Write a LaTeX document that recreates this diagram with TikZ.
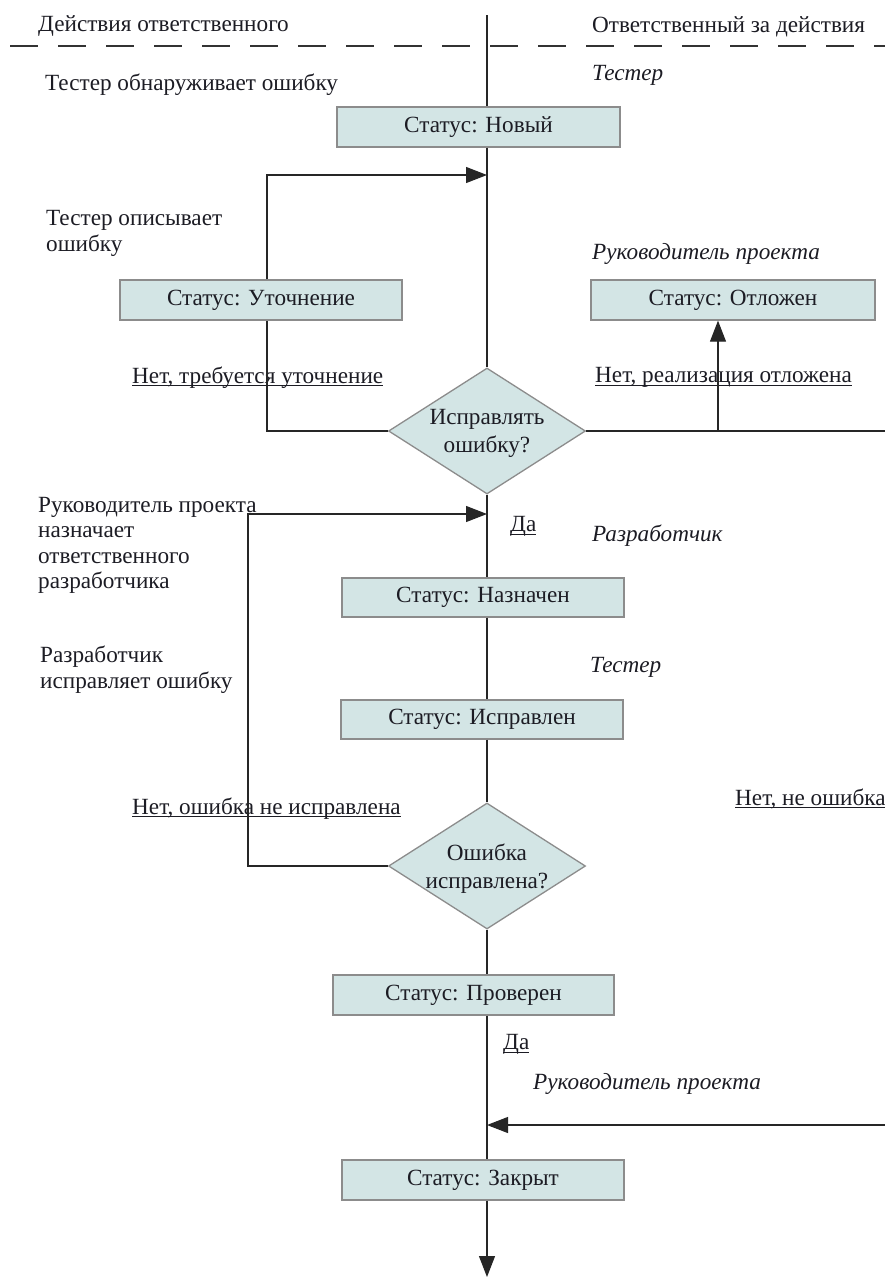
\documentclass[tikz,border=0pt]{standalone}
\usepackage{fontspec}
\setmainfont{Liberation Serif}
\usetikzlibrary{shapes.geometric,arrows.meta}
\definecolor{boxfill}{HTML}{D3E5E5}
\definecolor{boxline}{HTML}{8C8C8C}
\definecolor{txt}{HTML}{1C1C24}
\newcommand\fs{\fontsize{23.2}{25.5}\selectfont}
\newcommand\fsd{\fontsize{23.2}{27.5}\selectfont}
\newcommand\ulin[1]{\setbox0\hbox{#1}\leavevmode\rlap{\rule[-3pt]{\wd0}{1pt}}\box0}
\begin{document}
\begin{tikzpicture}[x=1pt,y=-1pt,
  box/.style={draw=boxline,fill=boxfill,line width=1.3pt,minimum height=40pt,inner sep=0pt,font=\fs,text=txt},
  dia/.style={diamond,draw=boxline,fill=boxfill,line width=1.3pt,minimum width=197pt,minimum height=126pt,inner sep=0pt},
  diatext/.style={align=center,font=\fsd,text=txt,inner sep=0pt,yshift=-2.5pt},
  conn/.style={line width=1.1pt,draw=black!85},
  arr/.style={conn,-{Triangle[length=21pt,width=16pt]}},
  lbl/.style={anchor=west,inner sep=0pt,font=\fs,text=txt,align=left,yshift=-2.5pt},
  role/.style={lbl,font=\fs\itshape}]
\useasboundingbox[fill=white] (0,0) rectangle (885,1278);

% header
\node[lbl] (h1) at (38,24) {Действия ответственного};
\node[lbl] (h2) at (592,24) {Ответственный за действия};
\draw[dash pattern=on 28pt off 20pt, line width=1.2pt, black!80] (10,46) -- (885,46);

% nodes
\node[box,minimum width=283pt] (novy) at (478.5,127) {Статус: Новый};
\node[box,minimum width=282pt] (ut) at (261,300) {Статус: Уточнение};
\node[box,minimum width=284pt] (otl) at (733,300) {Статус: Отложен};
\node[dia] (d1) at (487,431) {};
\node[diatext] (d1t) at (d1) {Исправлять\\ошибку?};
\node[box,minimum width=282pt,minimum height=39pt] (naz) at (483,597.5) {Статус: Назначен};
\node[box,minimum width=282pt,minimum height=39pt] (isp) at (482,719.5) {Статус: Исправлен};
\node[dia] (d2) at (487,866) {};
\node[diatext] (d2t) at (d2) {Ошибка\\исправлена?};
\node[box,minimum width=281pt] (prov) at (473.5,995) {Статус: Проверен};
\node[box,minimum width=282pt] (zak) at (483,1180) {Статус: Закрыт};

% labels
\node[lbl] (t1) at (45,82) {Тестер обнаруживает ошибку};
\node[role] (r1) at (592,73) {Тестер};
\node[lbl] (t2) at (46,231) {Тестер описывает\\ошибку};
\node[role] (r2) at (592,251) {Руководитель проекта};
\node[lbl] (n1) at (132,375) {\ulin{Нет, требуется уточнение}};
\node[lbl] (n2) at (595,375) {\ulin{Нет, реализация отложена}};
\node[lbl] (da1) at (510,524) {\ulin{Да}};
\node[lbl] (t3) at (38,543) {Руководитель проекта\\назначает\\ответственного\\разработчика};
\node[role] (r3) at (592,533) {Разработчик};
\node[role] (r4) at (590,665) {Тестер};
\node[lbl] (t4) at (40,667) {Разработчик\\исправляет ошибку};
\node[lbl] (n3) at (132,806) {\ulin{Нет, ошибка не исправлена}};
\node[lbl] (n4) at (735,796) {\ulin{Нет, не ошибка}};
\node[lbl] (da2) at (503,1042) {\ulin{Да}};
\node[role] (r5) at (533,1081) {Руководитель проекта};

% coordinates
\coordinate (top) at (487,15);
\coordinate (j1) at (487,175);
\coordinate (u1) at (267,175);
\coordinate (u2) at (267,431);
\coordinate (e1) at (885,431);
\coordinate (o1) at (718,431);
\coordinate (j2) at (487,514);
\coordinate (l1) at (248,514);
\coordinate (l2) at (248,866);
\coordinate (e2) at (885,1125);
\coordinate (j3) at (487,1125);
\coordinate (bot) at (487,1277);

% connectors
\draw[conn] (top) -- (novy.north -| top);
\draw[conn] (novy.south -| top) -- (d1.north);
\draw[arr] (ut.north -| u1) -- (u1) -- (j1);
\draw[conn] (d1.west) -- (u2) -- (ut.south -| u2);
\draw[conn] (d1.east) -- (e1);
\draw[arr] (o1) -- (otl.south -| o1);
\draw[conn] (d1.south) -- (naz.north -| d1);
\draw[arr] (d2.west) -- (l2) -- (l1) -- (j2);
\draw[conn] (naz.south -| d1) -- (isp.north -| d1);
\draw[conn] (isp.south -| d1) -- (d2.north);
\draw[conn] (d2.south) -- (prov.north -| d2);
\draw[conn] (prov.south -| d2) -- (zak.north -| d2);
\draw[arr] (e2) -- (j3);
\draw[arr] (zak.south -| d2) -- (bot);
\end{tikzpicture}
\end{document}
